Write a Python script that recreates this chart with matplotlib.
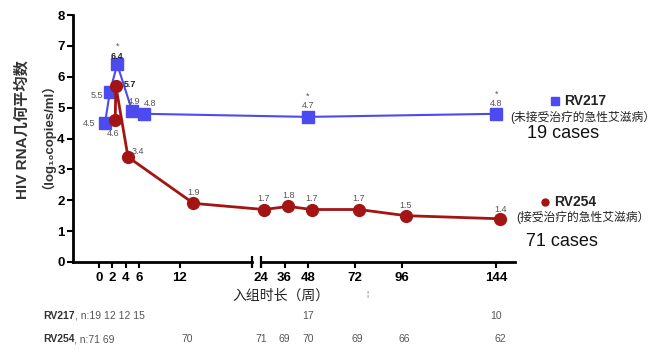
import numpy as np
import matplotlib
matplotlib.use("Agg")
import matplotlib.pyplot as plt
from matplotlib.lines import Line2D
import matplotlib.transforms as mtransforms

plt.rcParams['font.family'] = ['Liberation Sans', 'Noto Sans CJK SC', 'DejaVu Sans']

# data (weeks, log10 copies/ml)
rv217_weeks = [0.9, 1.6, 2.7, 4.9, 6.7, 48, 144]
rv217_vals = [4.5, 5.5, 6.4, 4.9, 4.8, 4.7, 4.8]
rv254_weeks = [2.4, 2.5, 4.3, 14, 25.5, 38, 50, 74, 98, 146]
rv254_vals = [4.6, 5.7, 3.4, 1.9, 1.7, 1.8, 1.7, 1.7, 1.5, 1.4]

xticks = [0, 2, 4, 6, 12, 24, 36, 48, 72, 96, 144]

# patients at visit
rv217_n_first = [19, 12, 12, 15]
rv217_n_weeks = [48, 144]
rv217_n = [17, 10]
rv254_n_first = [71, 69]
rv254_n_weeks = [13, 24, 36, 48, 73, 97, 146]
rv254_n = [70, 71, 69, 70, 69, 66, 62]

blue = '#4b4bf0'
red = '#a31414'

# broken x axis: first part 1:1, after week 24 compressed
k = 1.96 / 6.75
def fwd(x):
    x = np.asarray(x, dtype=float)
    return np.where(x <= 24, x, 24 + (x - 24) * k)
def inv(y):
    y = np.asarray(y, dtype=float)
    return np.where(y <= 24, y, 24 + (y - 24) / k)

fig = plt.figure(figsize=(6.54, 3.56), dpi=100)
ax = fig.add_axes([73/654, 1 - 262/356, (515-73)/654, (262-15)/356])
ax.set_xscale('function', functions=(fwd, inv))
xmin, xmax = -3.85, 153.6
ax.set_xlim(xmin, xmax)
ax.set_ylim(0, 8)

ax.plot(rv217_weeks, rv217_vals, color=blue, lw=1.5, marker='s', ms=8,
        mfc=blue, mec=blue, zorder=3)
ax.plot(rv254_weeks, rv254_vals, color=red, lw=2, marker='o', ms=8.5,
        mfc=red, mec=red, zorder=4)

# value labels (offsets in pixels)
lab_kw = dict(textcoords='offset pixels', fontsize=6.5, color='#555555',
              ha='center', va='center')
blue_off = [(-16, 0), (-13, -3), (0, 8), (2, 9), (6, 10), (0, 11), (0, 10)]
for x, y, off in zip(rv217_weeks, rv217_vals, blue_off):
    bold = y == 6.4
    ax.annotate('%.1f' % y, (x, y), xytext=off, zorder=5,
                **dict(lab_kw, color='#222222' if bold else '#555555',
                       fontweight='bold' if bold else 'normal'))
for i in [2, 5, 6]:
    ax.annotate('*', (rv217_weeks[i], rv217_vals[i]),
                xytext=(blue_off[i][0], blue_off[i][1] + 10), **lab_kw)
red_off = [(-2, -14), (14, 2), (10, 6), (0, 11), (0, 11), (0, 11), (0, 11),
           (0, 11), (0, 10), (0, 9)]
for x, y, off in zip(rv254_weeks, rv254_vals, red_off):
    bold = y == 5.7
    ax.annotate('%.1f' % y, (x, y), xytext=off, zorder=5,
                **dict(lab_kw, color='#222222' if bold else '#555555',
                       fontweight='bold' if bold else 'normal'))

# axes styling
for s in ['top', 'right', 'bottom']:
    ax.spines[s].set_visible(False)
ax.spines['left'].set_linewidth(2)
ax.set_yticks(range(0, 9))
ax.set_xticks(xticks)
ax.set_xticklabels([str(t) for t in xticks])
ax.tick_params(axis='both', direction='out', length=4, width=1.5,
               labelsize=9.5, pad=2)
for lbl in ax.get_xticklabels() + ax.get_yticklabels():
    lbl.set_fontweight('bold')
ax.tick_params(axis='x', pad=3)

brk = 22.7
ax.plot([xmin, brk], [0, 0], color='k', lw=2, clip_on=False, zorder=2)
ax.plot([24, xmax], [0, 0], color='k', lw=2, clip_on=False, zorder=2)
ax.plot([brk, 24], [0, 0], ls='none', marker='|', ms=9, mew=1.6,
        color='k', clip_on=False)

# y label
fig.text(22/654, 1 - 130/356, 'HIV RNA几何平均数', rotation=90, ha='center',
         va='center', fontsize=11, fontweight='bold', color='#333333')
fig.text(41/654, 1 - 130/356, '（log₁₀copies/ml）', rotation=90,
         ha='center', va='center', fontsize=9.5, fontweight='bold',
         color='#333333')

# x label
fig.text(281/654, 1 - 296/356, '入组时长（周）', ha='center', va='center',
         fontsize=10, color='#222222')
fig.text(367/654, 1 - 295/356, '¦', ha='center', va='center', fontsize=6,
         color='#555555')

# patient numbers
tx = mtransforms.blended_transform_factory(ax.transData, fig.transFigure)
rows = [('RV217', rv217_n_first, rv217_n_weeks, rv217_n, 316),
        ('RV254', rv254_n_first, rv254_n_weeks, rv254_n, 339)]
for name, first, wks, ns, ypx in rows:
    t = fig.text(43/654, 1 - ypx/356, name, fontsize=7.5, fontweight='bold',
                 color='#333333', va='center')
    ax.annotate(', n:' + ' '.join(str(v) for v in first), xy=(1, 0.5),
                xycoords=t, va='center', fontsize=7.5, color='#555555')
    for w, n in zip(wks, ns):
        ax.text(w, 1 - ypx/356, str(n), transform=tx, ha='center',
                va='center', fontsize=7.5, color='#555555')

# legend-like annotations
fig.add_artist(Line2D([555/654], [1 - 101/356], marker='s', ms=6,
                      color=blue, transform=fig.transFigure))
fig.text(564/654, 1 - 101/356, 'RV217', fontsize=10, fontweight='bold',
         va='center', color='#222222')
fig.text(510/654, 1 - 117/356, '(未接受治疗的急性艾滋病）', fontsize=8.5,
         va='center', color='#222222')
fig.text(527/654, 1 - 133/356, '19 cases', fontsize=13, va='center',
         color='#111111')
fig.add_artist(Line2D([545/654], [1 - 202/356], marker='o', ms=5,
                      color=red, transform=fig.transFigure))
fig.text(554/654, 1 - 202/356, 'RV254', fontsize=10, fontweight='bold',
         va='center', color='#222222')
fig.text(516/654, 1 - 217/356, '(接受治疗的急性艾滋病）', fontsize=8.5,
         va='center', color='#222222')
fig.text(526/654, 1 - 242/356, '71 cases', fontsize=13, va='center',
         color='#111111')

fig.savefig('out.png', dpi=100)
